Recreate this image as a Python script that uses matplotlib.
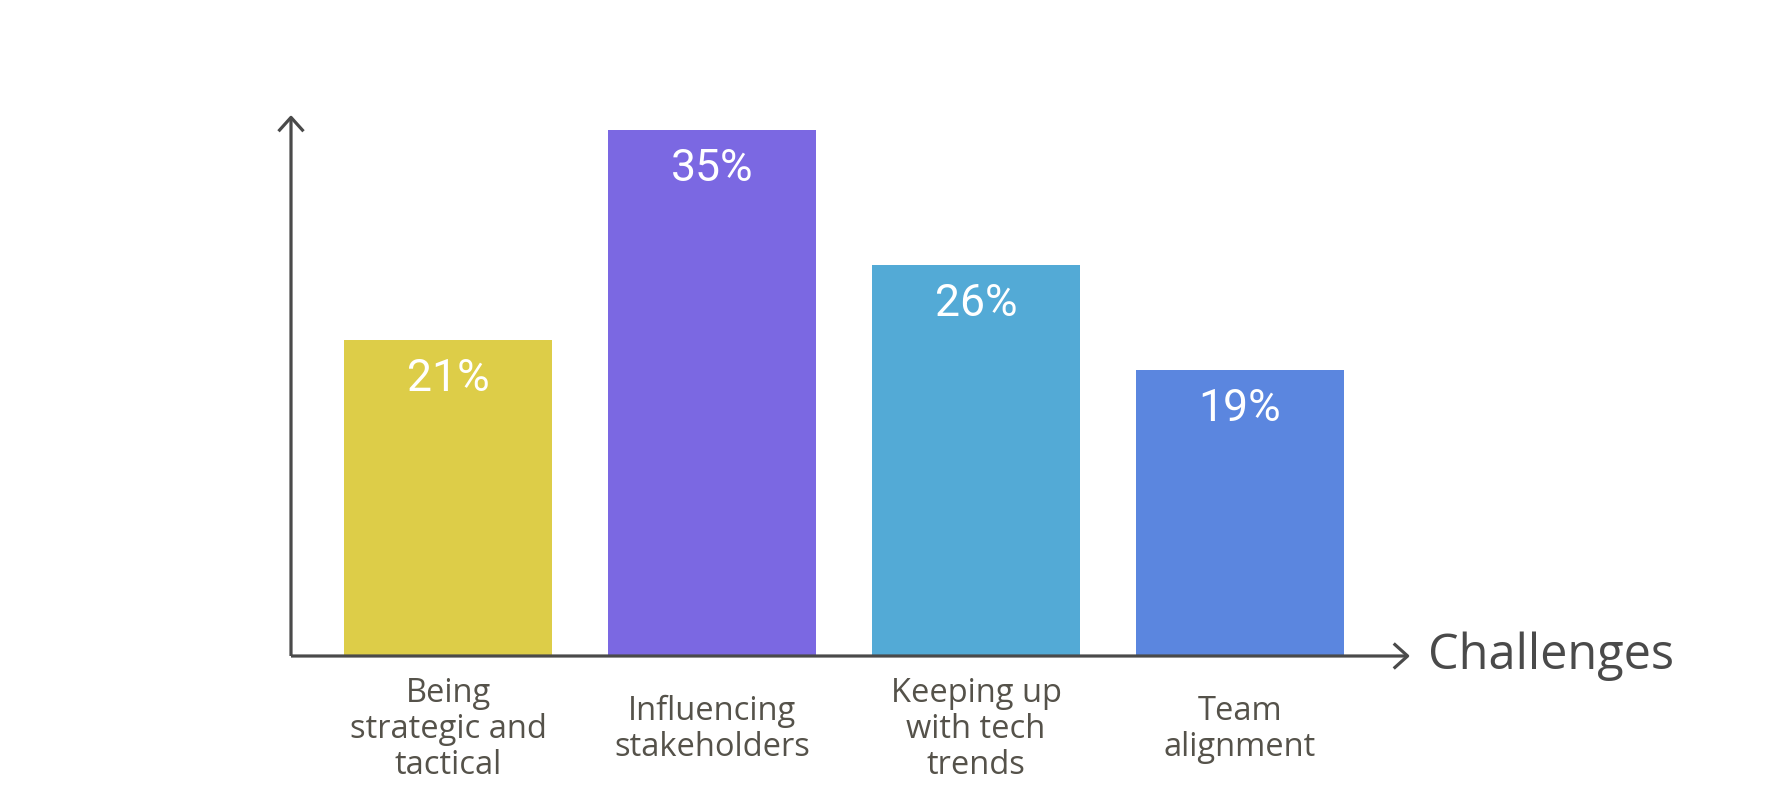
import numpy as np
import matplotlib
matplotlib.use('Agg')
from matplotlib import pyplot as plt

#%% DATA
categories = ['Being\nstrategic and\ntactical', 'Influencing\nstakeholders',
              'Keeping up\nwith tech\ntrends', 'Team\nalignment']
values = [21, 35, 26, 19]
value_labels = ['21%', '35%', '26%', '19%']
colors = ['#DDCD48', '#7B68E2', '#53AAD6', '#5B86DF']
axis_title = 'Challenges'

#%% PLOT
fig = plt.figure(figsize=(17.82, 8.1), dpi=100)
ax = fig.add_axes([291/1782, 154/810, 1119/1782, 541/810])
x = np.arange(len(values))
ax.bar(x, values, width=0.785, color=colors)
ax.set_xlim(-0.595, 3.644)
ax.set_ylim(0, 36)
ax.axis('off')

axcol = '#4a4a4a'
arrow = dict(arrowstyle='->,head_length=1.0,head_width=0.9', color=axcol, lw=2.3,
             shrinkA=0, shrinkB=0, capstyle='butt')
ax.annotate('', xy=(0, 1), xytext=(0, 0), xycoords='axes fraction', arrowprops=arrow)
ax.annotate('', xy=(1, 0), xytext=(0, 0), xycoords='axes fraction', arrowprops=arrow)

for xi, v, lab in zip(x, values, value_labels):
    ax.annotate(lab, xy=(xi, v), xytext=(0, -28), textcoords='offset points',
                ha='center', va='center', color='white', fontsize=32, family='Roboto')

for xi, cat in zip(x, categories):
    ax.annotate(cat, xy=(xi, 0), xytext=(0, -53), textcoords='offset points',
                ha='center', va='center', color='#55524a', fontsize=23.5,
                family='Open Sans', linespacing=1.12)

ax.annotate(axis_title, xy=(1, 0), xycoords='axes fraction', xytext=(13, 0),
            textcoords='offset points', ha='left', va='center', color=axcol,
            fontsize=35, family='Open Sans')

fig.savefig('out.png', dpi=100)
